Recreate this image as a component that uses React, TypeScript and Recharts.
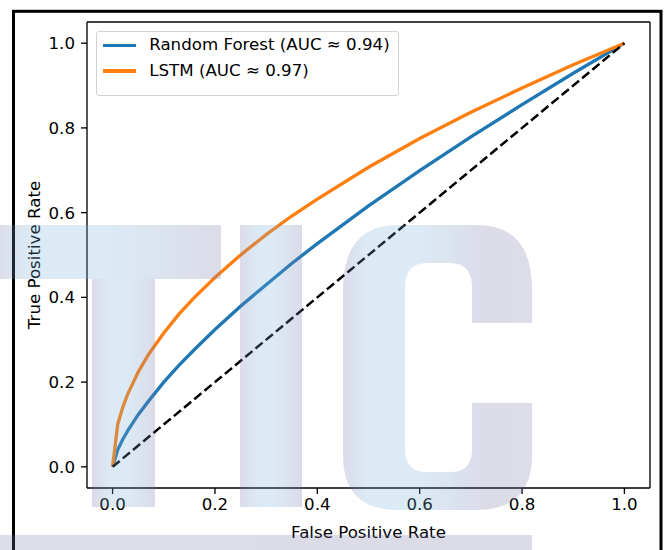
import { LineChart, Line, XAxis, YAxis, Legend, ReferenceLine } from 'recharts';

// ROC curves
const fprGrid = [0, 0.01, 0.02, 0.03, 0.05, 0.07, 0.1, 0.13, 0.16, 0.2, 0.25, 0.3, 0.35, 0.4, 0.5, 0.6, 0.7, 0.8, 0.9, 1.0];
const rfTpr = [0, 0.04, 0.065, 0.086, 0.123, 0.155, 0.2, 0.24, 0.277, 0.324, 0.379, 0.43, 0.48, 0.527, 0.616, 0.699, 0.779, 0.855, 0.929, 1.0];
const lstmTpr = [0, 0.1, 0.141, 0.173, 0.224, 0.265, 0.316, 0.361, 0.4, 0.447, 0.5, 0.548, 0.592, 0.632, 0.707, 0.775, 0.837, 0.894, 0.949, 1.0];

const chanceFpr = [0, 1];
const chanceTpr = [0, 1];

const axisDomain = [-0.05, 1.05];
const axisTicks = [0, 0.2, 0.4, 0.6, 0.8, 1.0];
const seriesNames = ['Random Forest (AUC ≈ 0.94)', 'LSTM (AUC ≈ 0.97)'];

const rocData = fprGrid.map((f, i) => ({ fpr: f, rf: rfTpr[i], lstm: lstmTpr[i] }));
const chanceData = chanceFpr.map((f, i) => ({ fpr: f, chance: chanceTpr[i] }));

const FONT = 'DejaVu Sans';
const FS = 16.67;

const tickStyle = { fontSize: FS, fill: '#000', fontFamily: FONT };
const fmt = (v: number) => v.toFixed(1);

const renderLegend = (props: any) => {
  const items = (props.payload || [])
    .filter((p: any) => p.type !== 'none')
    .sort((a: any, b: any) => seriesNames.indexOf(a.value) - seriesNames.indexOf(b.value));
  return (
    <div
      style={{
        boxSizing: 'border-box',
        width: 303,
        height: 64.5,
        border: '1px solid #d2d2d2',
        borderRadius: 3,
        background: 'rgba(255,255,255,0.8)',
        paddingTop: 0.5,
        fontFamily: FONT,
        fontSize: FS,
        color: '#000',
      }}
    >
      {items.map((it: any) => (
        <div key={it.value} style={{ display: 'flex', alignItems: 'center', height: 25.7 }}>
          <span style={{ display: 'inline-block', width: 33.3, height: 3.33, background: it.color, marginLeft: 5.6, marginRight: 13.3 }} />
          <span style={{ lineHeight: 1, whiteSpace: 'nowrap' }}>{it.value}</span>
        </div>
      ))}
    </div>
  );
};

const yLabel = (props: any) => {
  const vb = props.viewBox;
  const cx = vb.x + 12.5;
  const cy = vb.y + vb.height / 2;
  return (
    <text transform={`translate(${cx},${cy}) rotate(-90)`} textAnchor="middle" fontFamily={FONT} fontSize={FS} fill="#000">
      True Positive Rate
    </text>
  );
};

function Watermark() {
  const blue = '#73afd7';
  const lav = '#7676a8';
  return (
    <svg width={666} height={550} style={{ position: 'absolute', left: 0, top: 0, pointerEvents: 'none' }}>
      <defs>
        <linearGradient id="wmBar" x1="0" x2="1" y1="0" y2="0">
          <stop offset="0" stopColor={lav} />
          <stop offset="0.15" stopColor={blue} />
          <stop offset="0.5" stopColor={blue} />
          <stop offset="1" stopColor={lav} />
        </linearGradient>
        <linearGradient id="wmStem" x1="0" x2="1" y1="0" y2="0">
          <stop offset="0" stopColor={lav} />
          <stop offset="0.3" stopColor={blue} />
          <stop offset="0.55" stopColor={blue} />
          <stop offset="1" stopColor={lav} />
        </linearGradient>
        <linearGradient id="wmC" x1="0" x2="1" y1="0" y2="0">
          <stop offset="0" stopColor={lav} />
          <stop offset="0.12" stopColor={blue} />
          <stop offset="0.4" stopColor={blue} />
          <stop offset="0.75" stopColor={lav} />
          <stop offset="1" stopColor={lav} />
        </linearGradient>
      </defs>
      <g opacity={0.25}>
        <rect x={-5} y={225} width={226} height={54} fill="url(#wmBar)" />
        <rect x={92} y={279} width={63} height={228} fill="url(#wmStem)" />
        <rect x={240} y={225} width={62} height={282} fill="url(#wmStem)" />
        <path
          d="M532 323 L532 290 Q532 225 477 225 L398 225 Q343 225 343 290 L343 455 Q343 510 398 510 L477 510 Q532 510 532 455 L532 403 L472 403 L472 450 Q472 472 450 472 L427 472 Q405 472 405 450 L405 287 Q405 263 427 263 L450 263 Q472 263 472 287 L472 323 Z"
          fill="url(#wmC)"
        />
        <rect x={-5} y={535} width={537} height={30} fill={lav} />
      </g>
    </svg>
  );
}

export default function App() {
  return (
    <div style={{ position: 'absolute', left: 0, top: 0, width: 666, height: 550, background: '#fff', fontFamily: FONT }}>
      <LineChart width={666} height={550} data={rocData} margin={{ top: 22, right: 16, left: 27, bottom: 7 }}>
        <XAxis
          dataKey="fpr"
          type="number"
          domain={axisDomain}
          ticks={axisTicks}
          tickFormatter={fmt}
          tick={tickStyle}
          tickSize={6}
          tickMargin={4}
          height={55}
          allowDataOverflow
          axisLine={{ stroke: '#000', strokeWidth: 1.33 }}
          tickLine={{ stroke: '#000', strokeWidth: 1.33 }}
          label={{ value: 'False Positive Rate', position: 'insideBottom', offset: 5, fontSize: FS, fill: '#000', fontFamily: FONT }}
        />
        <YAxis
          type="number"
          domain={axisDomain}
          ticks={axisTicks}
          tickFormatter={fmt}
          tick={tickStyle}
          tickSize={6}
          tickMargin={6}
          width={60}
          allowDataOverflow
          axisLine={{ stroke: '#000', strokeWidth: 1.33 }}
          tickLine={{ stroke: '#000', strokeWidth: 1.33 }}
          label={{ content: yLabel }}
        />
        {/* top and right spines */}
        <ReferenceLine y={axisDomain[1]} stroke="#000" strokeWidth={1.33} ifOverflow="visible" />
        <ReferenceLine x={axisDomain[1]} stroke="#000" strokeWidth={1.33} ifOverflow="visible" />
        <Legend
          layout="vertical"
          align="center"
          verticalAlign="middle"
          content={renderLegend}
          wrapperStyle={{ left: 96, top: 31, width: 303, height: 65 }}
        />
        <Line name={seriesNames[0]} type="linear" dataKey="rf" stroke="#1f77b4" strokeWidth={3.33} dot={false} activeDot={false} isAnimationActive={false} />
        <Line name={seriesNames[1]} type="linear" dataKey="lstm" stroke="#ff7f0e" strokeWidth={3.33} dot={false} activeDot={false} isAnimationActive={false} />
        <Line data={chanceData} type="linear" dataKey="chance" stroke="#000" strokeWidth={2.5} strokeDasharray="9.25 4" dot={false} activeDot={false} legendType="none" isAnimationActive={false} />
      </LineChart>
      <svg width={666} height={550} style={{ position: 'absolute', left: 0, top: 0, pointerEvents: 'none' }}>
        <rect x={13.5} y={11.3} width={647.5} height={600} fill="none" stroke="#000" strokeWidth={3} />
      </svg>
      <Watermark />
    </div>
  );
}
